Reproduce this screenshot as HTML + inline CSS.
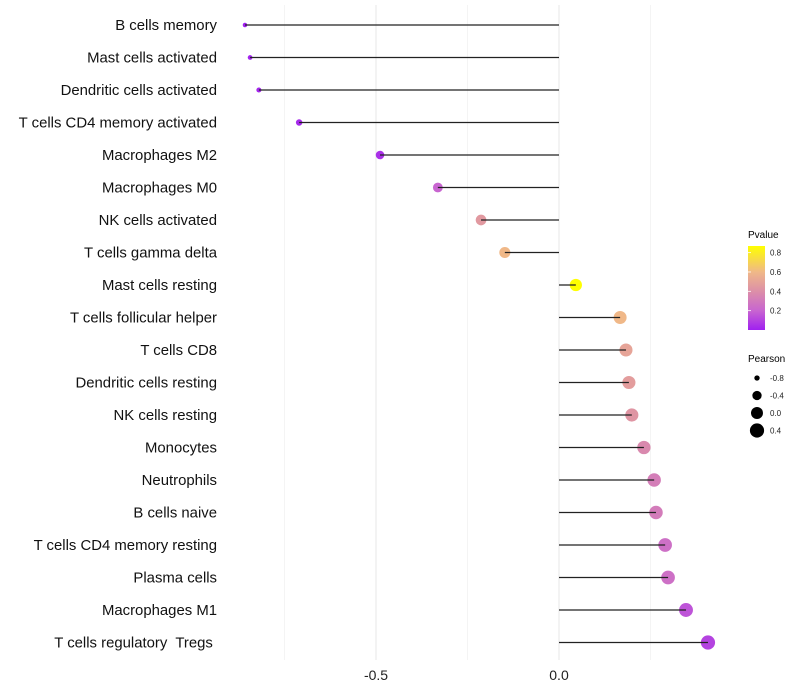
<!DOCTYPE html>
<html><head><meta charset="utf-8"><style>
html,body{margin:0;padding:0;background:#fff;}
svg{display:block;font-family:"Liberation Sans",sans-serif;}
.pre{white-space:pre;}
</style></head><body>
<svg id="chart" width="800" height="700" viewBox="0 0 800 700">
<g id="grid"></g>
<g id="ylabels"></g>
<g id="marks"></g>
<g id="xticks"></g>
<g id="legend">
<defs><linearGradient id="pg" x1="0" y1="1" x2="0" y2="0">
<stop offset="0" stop-color="#a020f0"/><stop offset="0.23" stop-color="#c865d0"/><stop offset="0.46" stop-color="#dc8fa8"/><stop offset="0.69" stop-color="#f0b888"/><stop offset="1" stop-color="#ffff00"/></linearGradient></defs>
<text x="748" y="238" font-size="10">Pvalue</text>
<rect x="748" y="246" width="17" height="84" fill="url(#pg)"/>
<g id="cbticks"></g>
<text x="748" y="362" font-size="10">Pearson</text>
<g id="sizeleg"></g>
</g>
</svg>
<script>
const categories=["B cells memory","Mast cells activated","Dendritic cells activated","T cells CD4 memory activated","Macrophages M2","Macrophages M0","NK cells activated","T cells gamma delta","Mast cells resting","T cells follicular helper","T cells CD8","Dendritic cells resting","NK cells resting","Monocytes","Neutrophils","B cells naive","T cells CD4 memory resting","Plasma cells","Macrophages M1","T cells regulatory  Tregs "];
const pearson=[-0.858,-0.844,-0.820,-0.710,-0.489,-0.331,-0.213,-0.148,0.046,0.167,0.183,0.191,0.199,0.232,0.260,0.265,0.290,0.298,0.347,0.407];
const pvalue=[0.0,0.01,0.02,0.03,0.05,0.2,0.45,0.6,0.87,0.6,0.5,0.47,0.43,0.37,0.32,0.31,0.25,0.25,0.15,0.1];
const xTicks=[-0.5,0.0];
const xTickLabels=["-0.5","0.0"];
const xMinor=[-0.75,-0.25,0.25];
const cbTicks=[0.2,0.4,0.6,0.8];
const sizeLegend=[-0.8,-0.4,0.0,0.4];

const NS="http://www.w3.org/2000/svg";
const xs=v=>559+v*366;
const ys=i=>25+i*32.5;
const rs=v=>6*Math.sqrt(Math.max(v+1,0.05));
const stops=[[0,[160,32,240]],[0.2,[200,101,208]],[0.4,[220,143,168]],[0.6,[240,184,136]],[0.87,[255,255,0]]];
function col(p){
  if(p<=stops[0][0])return "rgb("+stops[0][1]+")";
  for(let i=1;i<stops.length;i++){if(p<=stops[i][0]){const a=stops[i-1],b=stops[i],t=(p-a[0])/(b[0]-a[0]);
    return "rgb("+a[1].map((c,k)=>Math.round(c+(b[1][k]-c)*t)).join(",")+")";}}
  return "rgb(255,255,0)";
}
function mk(tag,attrs,parent){const e=document.createElementNS(NS,tag);for(const k in attrs)e.setAttribute(k,attrs[k]);parent.appendChild(e);return e;}
const grid=document.getElementById('grid');
xMinor.forEach(v=>{const l=mk('line',{x1:xs(v),x2:xs(v),y1:5,y2:660,stroke:'#f4f4f4','stroke-width':1},grid);

});
xTicks.forEach(v=>{const l=mk('line',{x1:xs(v),x2:xs(v),y1:5,y2:660,stroke:'#ebebeb','stroke-width':1.2},grid);

});
const xt=document.getElementById('xticks');
xTicks.forEach((v,i)=>{const t=mk('text',{x:xs(v),y:680,'font-size':14,'text-anchor':'middle',fill:'#222'},xt);t.textContent=xTickLabels[i];

});
const yl=document.getElementById('ylabels'),marks=document.getElementById('marks');
categories.forEach((c,i)=>{
  const t=mk('text',{x:217,y:ys(i)+5,'font-size':14.9,'text-anchor':'end',fill:'#111',class:'pre'},yl);t.textContent=c;
  
  
  const p=mk('circle',{cx:xs(pearson[i]),cy:ys(i),r:rs(pearson[i]),fill:col(pvalue[i])},marks);
  
  
  const s=mk('line',{x1:xs(0),x2:xs(pearson[i]),y1:ys(i),y2:ys(i),stroke:'#222','stroke-width':1.2},marks);
  
  
});
const cbt=document.getElementById('cbticks');
cbTicks.forEach(v=>{const y=330-v*96.7;
  const l=mk('line',{x1:748,x2:751,y1:y,y2:y,stroke:'#fff','stroke-width':0.8},cbt);
  
  
  const t=mk('text',{x:770,y:y+3,'font-size':8,fill:'#222'},cbt);t.textContent=v.toFixed(1);
  
  });
const sl=document.getElementById('sizeleg');
sizeLegend.forEach((v,i)=>{const y=378+i*17.5;
  const c=mk('circle',{cx:757,cy:y,r:rs(v),fill:'#000'},sl);
  
  
  const t=mk('text',{x:770,y:y+3,'font-size':8,fill:'#222'},sl);t.textContent=v.toFixed(1);
  
  });
</script>
</body></html>
